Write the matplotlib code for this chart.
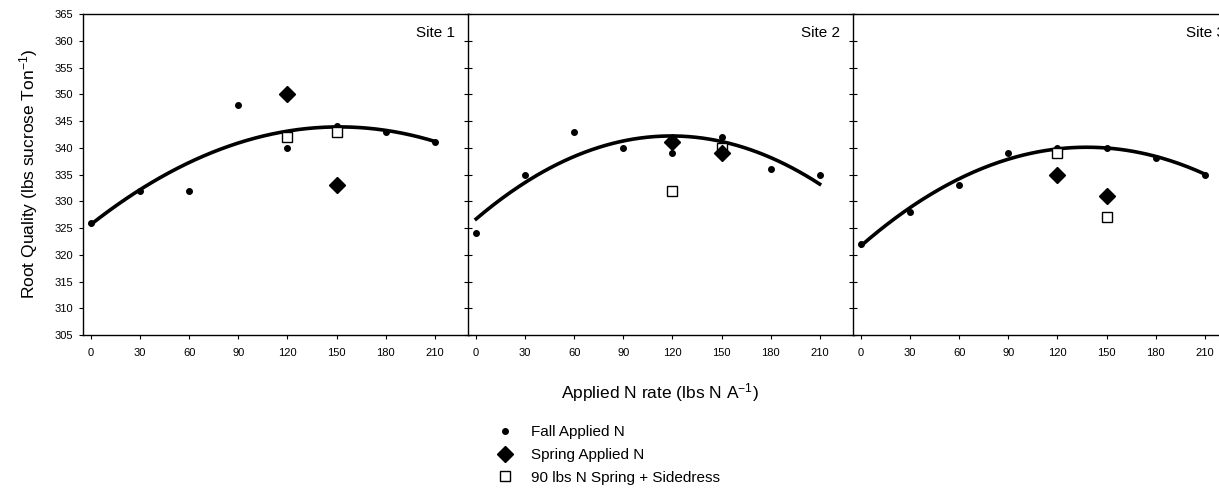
import matplotlib
matplotlib.use('Agg')
import matplotlib.pyplot as plt
from matplotlib.lines import Line2D
import numpy as np

plt.rcParams['font.family'] = ['Liberation Sans', 'DejaVu Sans']
plt.rcParams['mathtext.default'] = 'regular'

# data
sites = ['Site 1', 'Site 2', 'Site 3']
fall_rates = [0, 30, 60, 90, 120, 150, 180, 210]
fall_quality = [
    [326, 332, 332, 348, 340, 344, 343, 341],
    [324, 335, 343, 340, 339, 342, 336, 335],
    [322, 328, 333, 339, 340, 340, 338, 335],
]
spring_rates = [120, 150]
spring_quality = [
    [350, 333],
    [341, 339],
    [335, 331],
]
side_rates = [120, 150]
side_quality = [
    [342, 343],
    [332, 340],
    [339, 327],
]
# quadratic fits (intercept, linear, quadratic) for fall applied N
fit_coef = [
    [325.7, 0.2401, -7.92e-4],
    [326.7, 0.2601, -1.091e-3],
    [321.7, 0.2666, -9.66e-4],
]

W, H = 1219, 491
fig = plt.figure(figsize=(W / 100, H / 100), dpi=100)

ax_left = [83, 468, 853]
ax_w = 386
ax_top, ax_bot = 14, 335

for i in range(3):
    ax = fig.add_axes([ax_left[i] / W, 1 - ax_bot / H, ax_w / W, (ax_bot - ax_top) / H])
    ax.set_xlim(-5, 231)
    ax.set_ylim(305, 365)
    ax.set_xticks(fall_rates)
    ax.set_yticks(np.arange(305, 366, 5))
    ax.tick_params(axis='x', direction='out', length=3, width=0.8, labelsize=8, pad=6)
    for s in ax.spines.values():
        s.set_linewidth(1.0)
    ax.spines['right'].set_visible(False)
    if i == 0:
        ax.tick_params(axis='y', direction='out', length=3, width=0.8, labelsize=8, pad=4)
    else:
        ax.tick_params(axis='y', direction='inout', length=6, width=0.8, labelleft=False)

    xs = np.linspace(0, 210, 200)
    a, b, c = fit_coef[i]
    ax.plot(xs, a + b * xs + c * xs ** 2, color='black', lw=2.6, zorder=2)
    ax.plot(fall_rates, fall_quality[i], 'o', color='black', ms=4, zorder=3)
    ax.plot(side_rates, side_quality[i], 's', mfc='white', mec='black', mew=1.0, ms=7, zorder=4)
    ax.plot(spring_rates, spring_quality[i], 'D', color='black', ms=8, zorder=5)
    ax.text(0.965, 0.94, sites[i], transform=ax.transAxes, ha='right', va='center', fontsize=11)

fig.text(29 / W, 1 - 174 / H, 'Root Quality (lbs sucrose Ton$^{-1}$)', rotation=90,
         ha='center', va='center', fontsize=12.5)
fig.text(660 / W, 1 - 393 / H, 'Applied N rate (lbs N A$^{-1}$)',
         ha='center', va='center', fontsize=12.5)

handles = [
    Line2D([], [], ls='none', marker='o', color='black', ms=4),
    Line2D([], [], ls='none', marker='D', color='black', ms=8),
    Line2D([], [], ls='none', marker='s', mfc='white', mec='black', mew=1.0, ms=7),
]
labels = ['Fall Applied N', 'Spring Applied N', '90 lbs N Spring + Sidedress']
fig.legend(handles, labels, loc='upper left', bbox_to_anchor=(497 / W, 1 - 425 / H),
           frameon=False, fontsize=11, handlelength=1.0, handletextpad=1.2,
           labelspacing=0.58, borderpad=0, borderaxespad=0)

fig.savefig('out.png', dpi=100)
